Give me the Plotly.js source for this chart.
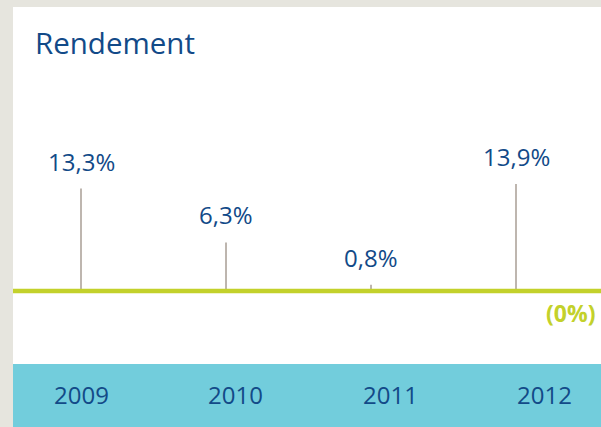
<!DOCTYPE html>
<html>
<head>
<meta charset="utf-8">
<script src="https://cdn.plot.ly/plotly-3.0.1.min.js"></script>
<style>html,body{margin:0;padding:0;background:#e6e5de;}#chart{width:601px;height:427px;}</style>
</head>
<body>
<div id="chart"></div>
<script>
// Data
const years = ['2009', '2010', '2011', '2012'];
const rendement = [13.3, 6.3, 0.8, 13.9];
const valueLabels = ['13,3%', '6,3%', '0,8%', '13,9%'];
const chartTitle = 'Rendement';
const zeroLabel = '(0%)';

const W = 601, H = 427;
const blue = '#124a88';
const green = '#c3d12b';
const cyan = '#72cddc';
const stemColor = '#a59a90';
const font = 'Open Sans, sans-serif';

const traces = [{
  type: 'bar',
  x: years,
  y: rendement,
  width: 0.01,
  marker: {color: stemColor, line: {width: 0}},
  hoverinfo: 'skip',
  xaxis: 'x',
  yaxis: 'y'
}];

const annotations = [];
years.forEach((yr, i) => {
  // category axes: position annotations by category index
  annotations.push({
    xref: 'x', yref: 'y', x: i, y: rendement[i],
    text: valueLabels[i], showarrow: false,
    xanchor: 'center', yanchor: 'bottom', yshift: 9,
    font: {family: font, size: 24, color: blue}
  });
  annotations.push({
    xref: 'x2', yref: 'paper', x: i, y: (H - 394.5) / H,
    text: yr, showarrow: false,
    xanchor: 'center', yanchor: 'middle',
    font: {family: font, size: 24, color: blue}
  });
});
annotations.push({
  xref: 'paper', yref: 'paper', x: 597 / W, y: (H - 313) / H,
  text: '<b>' + zeroLabel + '</b>', showarrow: false,
  xanchor: 'right', yanchor: 'middle',
  font: {family: font, size: 23, color: green}
});

const pxPerUnit = 7.7, zeroPx = 291;
const layout = {
  width: W, height: H,
  margin: {l: 0, r: 0, t: 0, b: 0, pad: 0},
  paper_bgcolor: '#e6e5de',
  plot_bgcolor: 'rgba(0,0,0,0)',
  showlegend: false,
  title: {
    text: chartTitle,
    x: 35 / W, xanchor: 'left', xref: 'container',
    y: 1 - 44 / H, yanchor: 'middle', yref: 'container',
    font: {family: font, size: 29.5, color: blue}
  },
  xaxis: {
    type: 'category', range: [-81 / 145, (W - 81) / 145],
    visible: false, fixedrange: true
  },
  xaxis2: {
    type: 'category', overlaying: 'x', range: [-81 / 154.5, (W - 81) / 154.5],
    visible: false, fixedrange: true
  },
  yaxis: {
    range: [-(H - zeroPx) / pxPerUnit, zeroPx / pxPerUnit],
    visible: false, fixedrange: true, zeroline: false
  },
  shapes: [
    {type: 'rect', xref: 'paper', yref: 'paper', x0: 13 / W, x1: 1, y0: (H - 364) / H, y1: (H - 7) / H,
     fillcolor: '#ffffff', line: {width: 0}, layer: 'below'},
    {type: 'rect', xref: 'paper', yref: 'paper', x0: 13 / W, x1: 1, y0: 0, y1: (H - 364) / H,
     fillcolor: cyan, line: {width: 0}, layer: 'below'},
    {type: 'line', xref: 'paper', yref: 'y', x0: 13 / W, x1: 1, y0: 0, y1: 0,
     line: {color: green, width: 4.5}, layer: 'above'}
  ],
  annotations: annotations
};

Plotly.newPlot('chart', traces, layout, {displayModeBar: false, staticPlot: true});
</script>
</body>
</html>
